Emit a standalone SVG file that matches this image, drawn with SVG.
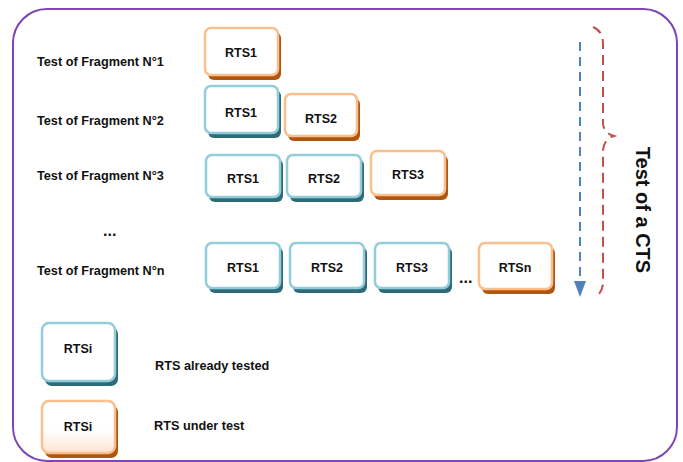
<svg xmlns="http://www.w3.org/2000/svg" width="683" height="462" viewBox="0 0 683 462">
  <defs>
    <style>
      .lbl { font-family: "Liberation Sans", Arial, sans-serif; font-weight: bold; font-size: 12.7px; fill: #111; }
      .box { font-family: "Liberation Sans", Arial, sans-serif; font-weight: bold; font-size: 12.5px; fill: #111; text-anchor: middle; }
      .dots { font-family: "Liberation Sans", Arial, sans-serif; font-weight: bold; font-size: 16px; fill: #111; }
      .sh-b { fill: #2F6A78; }
      .sh-o { fill: #B0560F; }
      .face-b { fill: #fff; stroke: #92CDDC; stroke-width: 2.5; }
      .face-o { fill: #fff; stroke: #F9BF8F; stroke-width: 2.5; }
      .frame { fill: #fff; stroke: #7E45B3; stroke-width: 2; }
    </style>
    <linearGradient id="peach" x1="0" y1="0" x2="0" y2="1">
      <stop offset="0.55" stop-color="#ffffff"/>
      <stop offset="1" stop-color="#FCE4D2"/>
    </linearGradient>
    <marker id="blueHead" viewBox="0 0 16 12" refX="15" refY="6" markerWidth="16" markerHeight="12" markerUnits="userSpaceOnUse" orient="auto">
      <path d="M0,0 L16,6 L0,12 Z" fill="#4F81BD"/>
    </marker>
  </defs>

  <!-- outer frame -->
  <rect class="frame" x="13" y="9" width="664" height="452" rx="34"/>

  <!-- row labels -->
  <g id="labels">
    <text class="lbl" x="37" y="66">Test of Fragment N°1</text>
    <text class="lbl" x="37" y="125">Test of Fragment N°2</text>
    <text class="lbl" x="37" y="180">Test of Fragment N°3</text>
    <text class="dots" x="103" y="236">...</text>
    <text class="lbl" x="37" y="275">Test of Fragment N°n</text>
  </g>

  <!-- fragment 1 -->
  <g id="f1-rts1">
    <rect class="sh-o" x="208" y="32" width="73" height="48" rx="6"/>
    <rect class="face-o" x="205" y="28" width="73" height="47" rx="6"/>
    <text class="box" x="241" y="57">RTS1</text>
  </g>

  <!-- fragment 2 -->
  <g id="f2-rts1">
    <rect class="sh-b" x="208" y="90" width="73" height="48" rx="6"/>
    <rect class="face-b" x="205" y="86" width="73" height="47" rx="6"/>
    <text class="box" x="241" y="117">RTS1</text>
  </g>
  <g id="f2-rts2">
    <rect class="sh-o" x="288" y="98" width="72" height="43" rx="6"/>
    <rect class="face-o" x="285" y="94" width="72" height="42" rx="6"/>
    <text class="box" x="321" y="123">RTS2</text>
  </g>

  <!-- fragment 3 -->
  <g id="f3-rts1">
    <rect class="sh-b" x="209" y="159" width="74" height="43" rx="6"/>
    <rect class="face-b" x="206" y="155" width="74" height="42" rx="6"/>
    <text class="box" x="243" y="183">RTS1</text>
  </g>
  <g id="f3-rts2">
    <rect class="sh-b" x="290" y="159" width="74" height="43" rx="6"/>
    <rect class="face-b" x="287" y="155" width="74" height="42" rx="6"/>
    <text class="box" x="324" y="183">RTS2</text>
  </g>
  <g id="f3-rts3">
    <rect class="sh-o" x="374" y="155" width="74" height="45" rx="6"/>
    <rect class="face-o" x="371" y="151" width="74" height="44" rx="6"/>
    <text class="box" x="408" y="179">RTS3</text>
  </g>

  <!-- fragment n -->
  <g id="fn-rts1">
    <rect class="sh-b" x="209" y="247" width="74" height="46" rx="6"/>
    <rect class="face-b" x="206" y="243" width="74" height="45" rx="6"/>
    <text class="box" x="243" y="272">RTS1</text>
  </g>
  <g id="fn-rts2">
    <rect class="sh-b" x="293" y="247" width="74" height="46" rx="6"/>
    <rect class="face-b" x="290" y="243" width="74" height="45" rx="6"/>
    <text class="box" x="327" y="272">RTS2</text>
  </g>
  <g id="fn-rts3">
    <rect class="sh-b" x="378" y="247" width="74" height="46" rx="6"/>
    <rect class="face-b" x="375" y="243" width="74" height="45" rx="6"/>
    <text class="box" x="412" y="272">RTS3</text>
  </g>
  <text class="dots" x="459" y="283">...</text>
  <g id="fn-rtsn">
    <rect class="sh-o" x="482" y="247" width="73" height="47" rx="6"/>
    <rect class="face-o" x="479" y="243" width="73" height="46" rx="6"/>
    <text class="box" x="515" y="272">RTSn</text>
  </g>

  <!-- progression arrow and brace -->
  <g id="connectors" fill="none" stroke-width="2">
    <line x1="580" y1="42" x2="580" y2="296" stroke="#4F81BD" stroke-dasharray="9,6" marker-end="url(#blueHead)"/>
    <path d="M593,27 Q603,31 603,44 L603,124 Q604,133 614,136 Q604,139 603,150 L603,284 Q602,292 597,296" stroke="#C0504D" stroke-dasharray="10,6"/>
  </g>
  <g id="cts-label">
    <text class="lbl" style="font-size:20px" text-anchor="middle" transform="translate(636,210) rotate(90)">Test of a CTS</text>
  </g>

  <!-- legend -->
  <g id="legend-tested">
    <rect class="sh-b" x="45" y="327" width="73" height="59" rx="7"/>
    <rect class="face-b" x="42" y="323" width="73" height="58" rx="7"/>
    <text class="box" x="78" y="353">RTSi</text>
    <text class="lbl" x="155" y="370">RTS already tested</text>
  </g>
  <g id="legend-under-test">
    <rect class="sh-o" x="45" y="405" width="73" height="53" rx="7"/>
    <rect x="42" y="401" width="73" height="52" rx="7" fill="url(#peach)" stroke="#F9BF8F" stroke-width="2.5"/>
    <text class="box" x="78" y="431">RTSi</text>
    <text class="lbl" x="154" y="430">RTS under test</text>
  </g>
</svg>
